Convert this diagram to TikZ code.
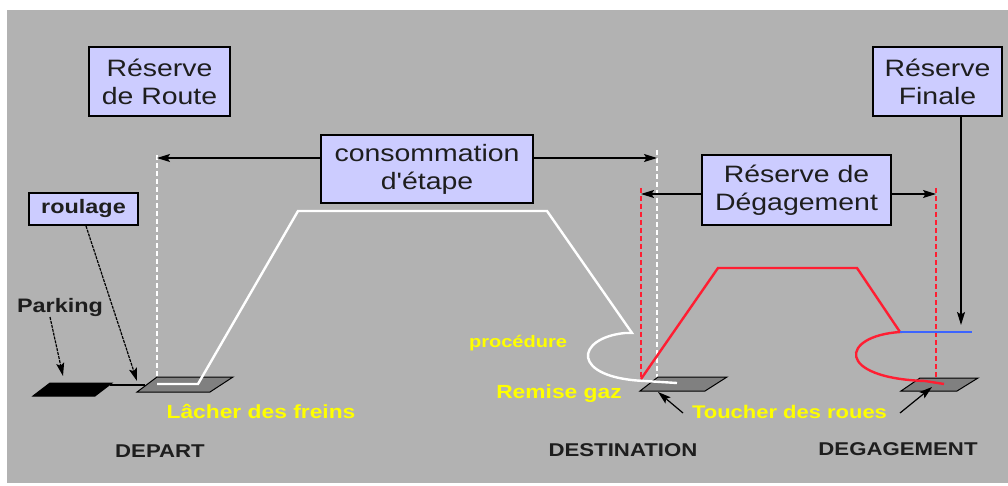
\documentclass[tikz,border=0pt]{standalone}
\usepackage{fontspec}
\setmainfont[FakeStretch=1.2,Ligatures=TeXOff]{Liberation Sans}
\usetikzlibrary{arrows.meta}
\definecolor{bg}{RGB}{178,178,178}
\definecolor{boxfill}{RGB}{204,204,255}
\definecolor{ylw}{RGB}{255,255,0}
\definecolor{rd}{RGB}{255,30,50}
\definecolor{bl}{RGB}{60,100,255}
\definecolor{padgray}{RGB}{128,128,128}
\definecolor{ink}{RGB}{30,30,30}
\begin{document}
\begin{tikzpicture}[x=1pt,y=-1pt,
  lbox/.style={draw=black,line width=1.3pt,fill=boxfill,inner sep=0pt,align=center,text=ink,
    font=\fontsize{23.7}{28}\selectfont},
  ylab/.style={text=ylw,inner sep=0pt,anchor=base,font=\bfseries\fontsize{19}{22}\selectfont},
  blab/.style={text=ink,inner sep=0pt,anchor=base,font=\bfseries\fontsize{18.5}{22}\selectfont},
  ptr/.style={line width=1.2pt,-{Stealth[length=13pt,width=8pt,inset=2.5pt]}},
  ptrd/.style={line width=1.2pt,dash pattern=on 3pt off 1pt,-{Stealth[length=13pt,width=8pt,inset=2.5pt]}},
  wdash/.style={white,line width=1.3pt,dash pattern=on 5pt off 3pt},
  rdash/.style={rd,line width=1.3pt,dash pattern=on 5pt off 3pt},
  pad/.style={draw=black,line width=1pt,fill=padgray}
]
\useasboundingbox (0,0) rectangle (1008,486);
\fill[white] (0,0) rectangle (1008,486);
\fill[bg] (7,10) rectangle (1008,483);

% dashed verticals
\coordinate (wd1t) at (157,155); \coordinate (wd1b) at (157,385);
\coordinate (wd2t) at (657,150); \coordinate (wd2b) at (657,383);
\coordinate (rd1t) at (641,188); \coordinate (rd1b) at (641,380);
\coordinate (rd2t) at (936,188); \coordinate (rd2b) at (936,385);
\draw[wdash] (wd1t) -- (wd1b);
\draw[wdash] (wd2t) -- (wd2b);
\draw[rdash] (rd1t) -- (rd1b);
\draw[rdash] (rd2t) -- (rd2b);

% pads
\draw[draw=black,line width=1pt,fill=black] (33,396) -- (50,383) -- (112,383) -- (95,396) -- cycle;
\draw[black,line width=1.2pt] (110,385) -- (145,385);
\draw[pad] (137,392) -- (157,377) -- (233,377) -- (210,392) -- cycle;
\draw[pad] (640,391) -- (658,377) -- (727,377) -- (705,391) -- cycle;
\draw[pad] (901,391) -- (920,378) -- (978,378) -- (957,391) -- cycle;

% white flight profile
\draw[white,line width=2.4pt,line join=miter]
  (157,384) -- (198,384) -- (298,211) -- (547,211) -- (632,333) -- (625,333)
  .. controls (575,338) and (570,378) .. (645,381) -- (677,383);

% red flight profile
\draw[rd,line width=2.4pt,line join=miter]
  (641,379) -- (718,268) -- (857,268) -- (900,332)
  .. controls (840,336) and (835,378) .. (925,381) -- (944,384);
\draw[bl,line width=1.5pt] (900,332) -- (972,332);

% boxes
\node[lbox,minimum width=141pt,minimum height=69pt] (rr) at (159.5,81.5) {Réserve\\de Route};
\node[lbox,minimum width=212pt,minimum height=68pt] (ce) at (427,169) {consommation\\d'étape};
\node[lbox,minimum width=189pt,minimum height=70pt] (rdg) at (796.5,190) {Réserve de\\Dégagement};
\node[lbox,minimum width=129pt,minimum height=69pt] (rf) at (937.5,81.5) {Réserve\\Finale};
\node[draw=black,line width=1.3pt,fill=boxfill,inner sep=0pt,text=ink,
  font=\bfseries\fontsize{19.5}{22}\selectfont,minimum width=109pt,minimum height=32pt] (rl) at (83.5,209) {roulage};

% dimension arrows
\coordinate (ceL) at (157,158); \coordinate (ceR) at (657,158);
\draw[ptr] (ce.west |- ceL) -- (ceL);
\draw[ptr] (ce.east |- ceR) -- (ceR);
\coordinate (dgL) at (641,194); \coordinate (dgR) at (936,194);
\draw[ptr] (rdg.west |- dgL) -- (dgL);
\draw[ptr] (rdg.east |- dgR) -- (dgR);
\coordinate (rfT) at (961,325);
\draw[ptr] (rf.south -| rfT) -- (rfT);

% labels
\node[blab,font=\bfseries\fontsize{19.5}{22}\selectfont] (pk) at (60,312) {Parking};
\node[ylab] (lf) at (261,418) {Lâcher des freins};
\node[ylab,font=\bfseries\fontsize{16.7}{20}\selectfont] (pr) at (518,347) {procédure};
\node[ylab] (rg) at (559,398) {Remise gaz};
\node[ylab,font=\bfseries\fontsize{18.3}{22}\selectfont] (tr) at (789.5,418) {Toucher des roues};
\node[blab] (dep) at (160,457) {DEPART};
\node[blab] (dst) at (623,456) {DESTINATION};
\node[blab] (dgg) at (898,455) {DEGAGEMENT};

% pointer arrows
\coordinate (pkA) at (50,317); \coordinate (pkT) at (63,376);
\draw[ptrd] (pkA) -- (pkT);
\coordinate (rlA) at (86,226); \coordinate (rlT) at (137,381);
\draw[ptrd] (rlA) -- (rlT);
\coordinate (t1A) at (683,413); \coordinate (t1T) at (658,392);
\draw[ptr] (t1A) -- (t1T);
\coordinate (t2A) at (900,413); \coordinate (t2T) at (932,387);
\draw[ptr] (t2A) -- (t2T);
\end{tikzpicture}
\end{document}
